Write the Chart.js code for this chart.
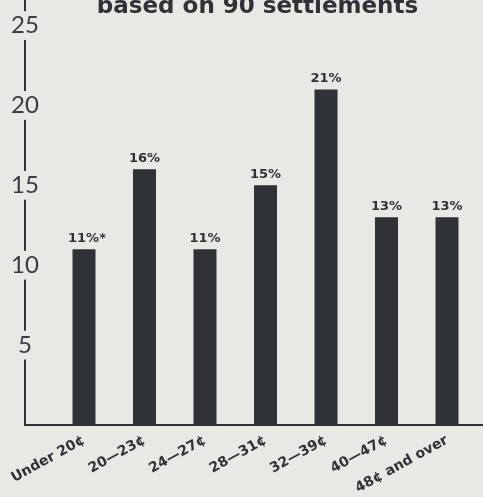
<!DOCTYPE html>
<html>
<head>
<meta charset="utf-8">
<script src="https://cdn.jsdelivr.net/npm/chart.js@4"></script>
<style>
  html, body { margin: 0; padding: 0; background: #e8e8e4; overflow: hidden; }
  #wrap { width: 483px; height: 497px; overflow: hidden; position: relative; }
  canvas { display: block; }
</style>
</head>
<body>
<div id="wrap"><canvas id="myChart" width="515" height="497"></canvas></div>
<script>
// price ranges and share of settlements in each
var categories = ["Under 20¢", "20—23¢", "24—27¢", "28—31¢", "32—39¢", "40—47¢", "48¢ and over"];
var shares = [11, 16, 11, 15, 21, 13, 13];
var notes = ["*", "", "", "", "", "", ""];
var yTicks = [5, 10, 15, 20, 25];

var ink = "#2f3236";
var paper = "#e8e8e4";

// percent labels above each bar
var barLabels = {
  id: "barLabels",
  afterDatasetsDraw: function (chart) {
    var ctx = chart.ctx;
    var meta = chart.getDatasetMeta(0);
    ctx.save();
    ctx.fillStyle = ink;
    ctx.font = "bold 13px 'DejaVu Sans'";
    ctx.textAlign = "center";
    ctx.textBaseline = "bottom";
    meta.data.forEach(function (bar, i) {
      ctx.fillText(shares[i] + "%" + notes[i], bar.x + (notes[i] ? 3 : 0), bar.y - 4);
    });
    ctx.restore();
  }
};

const myChart = new Chart("myChart", {
  type: "bar",
  data: {
    datasets: [{
      data: shares.map(function (v, i) { return { x: i, y: v }; }),
      backgroundColor: ink,
      barPercentage: 0.38,
      categoryPercentage: 1
    }]
  },
  options: {
    responsive: false,
    animation: false,
    devicePixelRatio: 1,
    layout: { padding: 0 },
    plugins: {
      legend: { display: false },
      tooltip: { enabled: false },
      title: {
        display: true,
        text: "based on 90 settlements",
        color: ink,
        font: { family: "DejaVu Sans", size: 23, weight: "bold", lineHeight: 1.2 },
        // title overlaps the top of the plot, so its box takes no height
        padding: { top: -6.5, bottom: -21.1 }
      }
    },
    scales: {
      x: {
        type: "linear",
        offset: false,
        min: -0.975,
        max: 7.124,
        grid: { display: false, drawTicks: false, offset: false },
        border: { display: true, color: ink, width: 2 },
        afterBuildTicks: function (scale) {
          scale.ticks = categories.map(function (c, i) { return { value: i }; });
        },
        afterFit: function (scale) {
          scale.height = 72;
          scale.paddingLeft = 0;
          scale.paddingRight = 0;
        },
        ticks: {
          autoSkip: false,
          minRotation: 29,
          maxRotation: 29,
          padding: 7,
          color: ink,
          font: { family: "DejaVu Sans", size: 14, weight: "bold" },
          callback: function (value) { return categories[value]; }
        }
      },
      y: {
        min: 0,
        max: 26.6,
        grid: { display: false, drawTicks: false },
        border: { display: true, color: ink, width: 2 },
        afterBuildTicks: function (scale) {
          scale.ticks = yTicks.map(function (v) { return { value: v }; });
        },
        afterFit: function (scale) {
          scale.width = 25;
          scale.paddingTop = 0;
          scale.paddingBottom = 0;
        },
        ticks: {
          z: 1,
          mirror: true,
          crossAlign: "center",
          padding: -14,
          color: "#3a3c3f",
          font: { family: "Lato", size: 24 },
          showLabelBackdrop: true,
          backdropColor: paper,
          backdropPadding: 0
        }
      }
    }
  },
  plugins: [barLabels]
});
</script>
</body>
</html>
